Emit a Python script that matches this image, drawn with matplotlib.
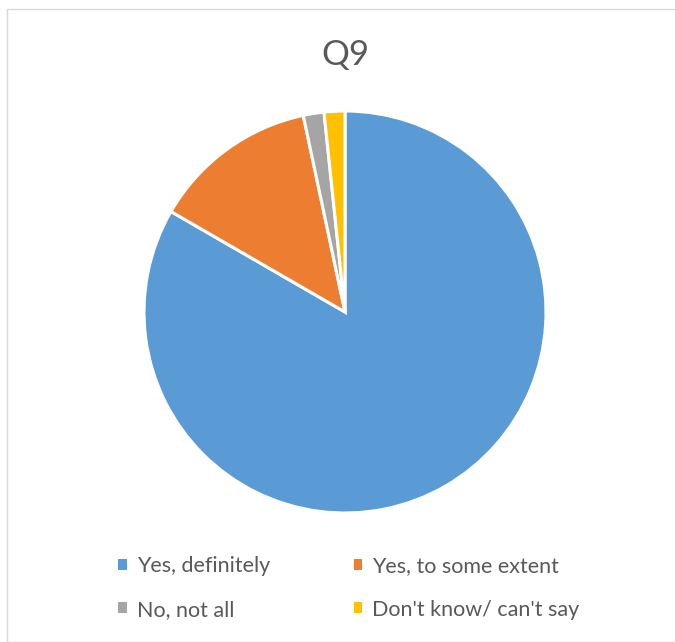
import matplotlib.pyplot as plt
from matplotlib.patches import Patch, Rectangle

plt.rcParams['font.family'] = ['Lato', 'DejaVu Sans']

# Q9 responses
labels = ["Yes, definitely", "Yes, to some extent", "No, not all", "Don't know/ can't say"]
counts = [50, 8, 1, 1]
colors = ['#5B9BD5', '#ED7D31', '#A5A5A5', '#FFC000']
text_color = '#595959'

W, H = 675, 642
fig = plt.figure(figsize=(W / 100, H / 100), dpi=100)

# chart area outline
fig.patches.append(Rectangle((7 / W, 0), 1, 1 - 9 / H, transform=fig.transFigure,
                             fill=False, edgecolor='#D9D9D9', linewidth=1))

cx, cy, r = 345, 312, 201
ax = fig.add_axes([(cx - r) / W, (H - cy - r) / H, 2 * r / W, 2 * r / H])
wedges, _ = ax.pie(counts, colors=colors, startangle=90, counterclock=False, radius=1,
                   wedgeprops=dict(edgecolor='white', linewidth=2.2))
for w in wedges:
    w.set_clip_on(False)
ax.set_xlim(-1, 1)
ax.set_ylim(-1, 1)
ax.set_aspect('equal')
ax.axis('off')

fig.text(cx / W, 1 - 55 / H, 'Q9', ha='center', va='center', fontsize=25, color=text_color)

# legend fills column-wise, so reorder to read across rows
order = [0, 2, 1, 3]
handles = [Patch(facecolor=colors[i], edgecolor='none') for i in order]
leg = fig.legend(handles, [labels[i] for i in order], ncol=2, loc='center left',
                 bbox_to_anchor=(99 / W, 1 - 588 / H), frameon=False,
                 fontsize=15.5, handlelength=0.4, handleheight=0.4,
                 handletextpad=0.45, columnspacing=3.9, labelspacing=1.08)
for t in leg.get_texts():
    t.set_color(text_color)

fig.savefig('out.png', dpi=100)
